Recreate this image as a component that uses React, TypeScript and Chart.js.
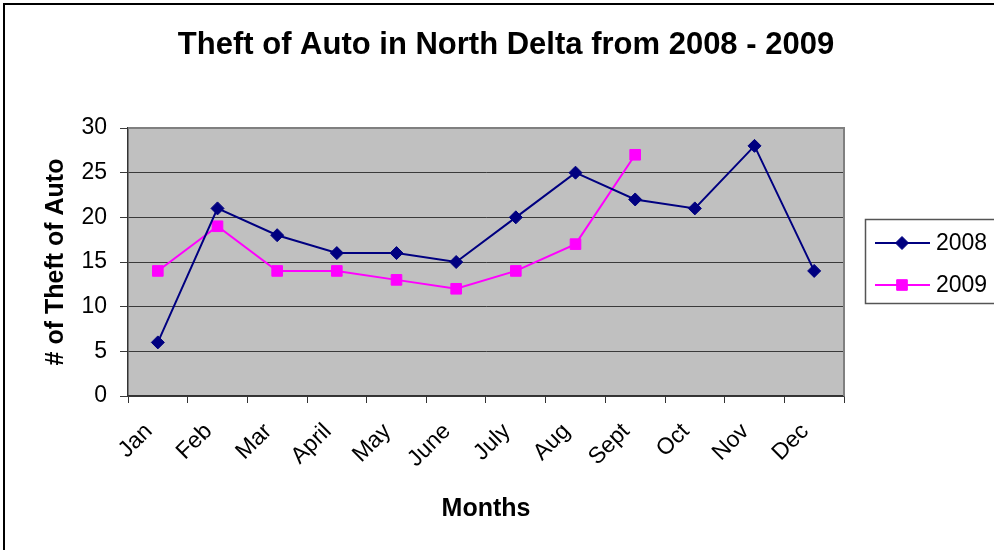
import React, { useEffect, useRef } from 'react';
import { Chart, registerables } from 'chart.js';

Chart.register(...registerables);

const months = ['Jan', 'Feb', 'Mar', 'April', 'May', 'June', 'July', 'Aug', 'Sept', 'Oct', 'Nov', 'Dec'];
const thefts2008 = [6, 21, 18, 16, 16, 15, 20, 25, 22, 21, 28, 14];
const thefts2009 = [14, 19, 14, 14, 13, 12, 14, 17, 27];
const seriesLabels = ['2008', '2009'];
const yMin = 0;
const yMax = 30;
const yStep = 5;
const chartTitle = 'Theft of Auto in North Delta from 2008 - 2009';
const yTitle = '# of Theft of Auto';
const xTitle = 'Months';

const FONT = '"Liberation Sans", Arial, Helvetica, sans-serif';

const plotBg = {
  id: 'plotBg',
  beforeDraw(chart: any) {
    const { ctx, chartArea: a } = chart;
    ctx.save();
    ctx.fillStyle = '#C0C0C0';
    ctx.fillRect(a.left, a.top, a.right - a.left, a.bottom - a.top);
    ctx.restore();
  },
  beforeDatasetsDraw(chart: any) {
    const { ctx, chartArea: a } = chart;
    ctx.save();
    ctx.strokeStyle = '#808080';
    ctx.lineWidth = 2;
    ctx.beginPath();
    ctx.moveTo(a.left, a.top);
    ctx.lineTo(a.right, a.top);
    ctx.lineTo(a.right, a.bottom);
    ctx.stroke();
    ctx.restore();
  },
};

const titlePlugin = {
  id: 'customTitle',
  afterDraw(chart: any) {
    const { ctx } = chart;
    ctx.save();
    ctx.font = `bold 31px ${FONT}`;
    ctx.fillStyle = '#000';
    ctx.textAlign = 'center';
    ctx.textBaseline = 'middle';
    ctx.fillText(chartTitle, chart.width / 2 + 9, 45);
    ctx.restore();
  },
};

function drawMarker(ctx: CanvasRenderingContext2D, style: string, x: number, y: number, r: number) {
  ctx.beginPath();
  if (style === 'rectRot') {
    ctx.moveTo(x - r, y);
    ctx.lineTo(x, y - r);
    ctx.lineTo(x + r, y);
    ctx.lineTo(x, y + r);
    ctx.closePath();
  } else {
    const s = r * Math.SQRT1_2;
    ctx.rect(x - s, y - s, 2 * s, 2 * s);
  }
  ctx.fill();
  ctx.stroke();
}

const legendPlugin = {
  id: 'customLegend',
  afterDraw(chart: any) {
    const { ctx } = chart;
    const boxX = 865.5;
    const boxY = 219.5;
    ctx.save();
    ctx.strokeStyle = '#555';
    ctx.lineWidth = 1.5;
    ctx.strokeRect(boxX, boxY, 160, 84);
    chart.data.datasets.forEach((ds: any, i: number) => {
      const y = 243 + i * 42;
      ctx.strokeStyle = ds.borderColor;
      ctx.fillStyle = ds.backgroundColor;
      ctx.lineWidth = 2;
      ctx.beginPath();
      ctx.moveTo(875, y);
      ctx.lineTo(930, y);
      ctx.stroke();
      ctx.lineWidth = 1;
      drawMarker(ctx, ds.pointStyle, 902, y, ds.pointRadius);
      ctx.fillStyle = '#000';
      ctx.font = `23px ${FONT}`;
      ctx.textAlign = 'left';
      ctx.textBaseline = 'middle';
      ctx.fillText(ds.label, 936, y + 1);
    });
    ctx.restore();
  },
};

export default function App() {
  const canvasRef = useRef<HTMLCanvasElement | null>(null);

  useEffect(() => {
    const canvas = canvasRef.current;
    if (!canvas) return;
    const chart = new Chart(canvas, {
      type: 'line',
      data: {
        labels: months,
        datasets: [
          {
            label: seriesLabels[0],
            data: thefts2008,
            borderColor: '#000080',
            backgroundColor: '#000080',
            borderWidth: 2,
            pointStyle: 'rectRot',
            pointRadius: 6.5,
            pointHoverRadius: 6.5,
            pointBorderWidth: 1,
            tension: 0,
          },
          {
            label: seriesLabels[1],
            data: thefts2009,
            borderColor: '#FF00FF',
            backgroundColor: '#FF00FF',
            borderWidth: 2,
            pointStyle: 'rect',
            pointRadius: 7.5,
            pointHoverRadius: 7.5,
            pointBorderWidth: 1,
            tension: 0,
          },
        ],
      },
      options: {
        responsive: false,
        animation: false,
        devicePixelRatio: 1,
        layout: { padding: { left: 20, right: 150, top: 128, bottom: 0 } },
        plugins: {
          legend: { display: false },
          title: { display: false },
          tooltip: { enabled: false },
        },
        scales: {
          x: {
            type: 'category',
            offset: true,
            afterFit: (scale: any) => {
              scale.height = 154;
            },
            grid: {
              display: true,
              offset: true,
              drawOnChartArea: false,
              drawTicks: true,
              tickLength: 7,
              color: '#333',
              lineWidth: 1,
            },
            border: { display: true, color: '#333', width: 1.5 },
            ticks: {
              autoSkip: false,
              maxRotation: 45,
              minRotation: 45,
              padding: 6,
              color: '#000',
              font: { family: FONT, size: 23 },
              callback: function (this: any, value: any) {
                return this.getLabelForValue(value) + '  ';
              },
            },
            title: {
              display: true,
              text: xTitle,
              color: '#000',
              font: { family: FONT, size: 25, weight: 'bold', lineHeight: 1.2 },
              padding: { top: 0, bottom: 26 },
            },
          },
          y: {
            min: yMin,
            max: yMax,
            afterFit: (scale: any) => {
              scale.width = 108;
            },
            grid: {
              color: '#3a3a3a',
              lineWidth: 1,
              drawTicks: true,
              tickLength: 8,
            },
            border: { display: true, color: '#333', width: 1.5 },
            ticks: {
              stepSize: yStep,
              padding: 13,
              color: '#000',
              font: { family: FONT, size: 23 },
            },
            title: {
              display: true,
              text: yTitle,
              color: '#000',
              font: { family: FONT, size: 25, weight: 'bold', lineHeight: 1.2 },
              padding: { top: 21, bottom: 0 },
            },
          },
        },
      },
      plugins: [plotBg, titlePlugin, legendPlugin],
    } as any);
    return () => chart.destroy();
  }, []);

  return (
    <div
      style={{
        position: 'fixed',
        left: 0,
        top: 0,
        width: 994,
        height: 550,
        overflow: 'hidden',
        background: '#fff',
      }}
    >
      <div
        style={{
          position: 'absolute',
          left: 3,
          top: 3,
          width: 1100,
          height: 700,
          border: '2px solid #000',
        }}
      />
      <canvas
        ref={canvasRef}
        width={994}
        height={550}
        style={{ position: 'absolute', left: 0, top: 0, width: 994, height: 550 }}
      />
    </div>
  );
}
